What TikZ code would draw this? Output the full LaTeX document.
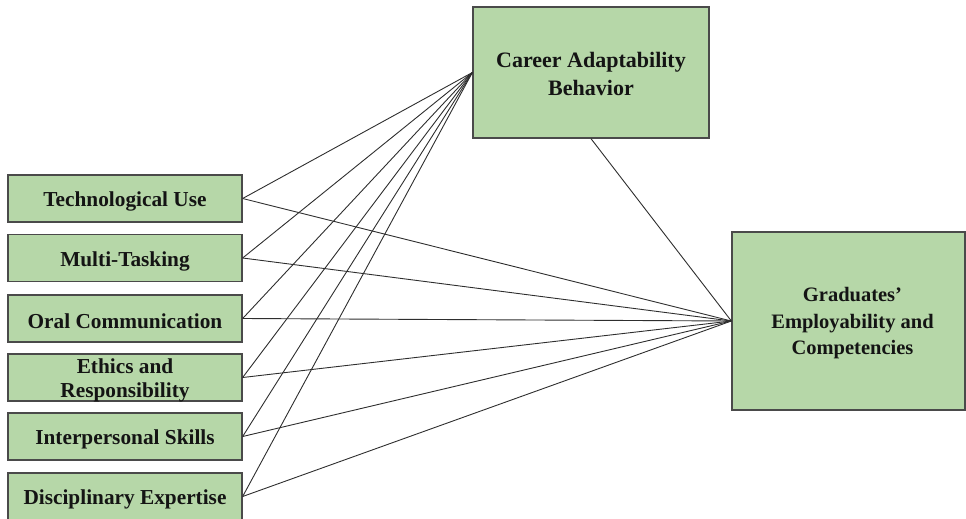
\documentclass[tikz,border=0pt]{standalone}
\usepackage{fontspec}
\setmainfont{Liberation Serif}
\definecolor{boxfill}{HTML}{B6D7A8}
\definecolor{boxline}{HTML}{4A4A4A}
\definecolor{txt}{HTML}{141414}
\definecolor{conn}{HTML}{2E2E2E}
\tikzset{
  leftbox/.style={draw=boxline, line width=1.3pt, fill=boxfill, minimum width=234pt, minimum height=47pt, inner sep=0pt},
  lefttext/.style={align=center, text=txt, inner sep=0pt, yshift=-3pt, font=\fontsize{21.3}{24}\selectfont\bfseries},
  bigbox/.style={draw=boxline, line width=1.3pt, fill=boxfill, inner sep=0pt},
  bigtext/.style={align=center, text=txt, inner sep=0pt},
  link/.style={draw=conn, line width=0.9pt}
}
\begin{document}
\begin{tikzpicture}[x=1pt,y=-1pt]
\useasboundingbox (0,0) rectangle (966,519);
\node[bigbox, minimum width=236pt, minimum height=131pt,
  label={[bigtext, yshift=-1pt, font=\fontsize{22}{28}\selectfont\bfseries]center:Career Adaptability\\Behavior}] (cab) at (591,72.5) {};
\node[bigbox, minimum width=233pt, minimum height=178pt,
  label={[bigtext, yshift=-2.5pt, xshift=4pt, font=\fontsize{20.5}{26.5}\selectfont\bfseries]center:Graduates’\\Employability and\\Competencies}] (gec) at (848.5,321) {};
\node[leftbox, label={[lefttext]center:Technological Use}] (t1) at (125,198.5) {};
\node[leftbox, label={[lefttext]center:Multi-Tasking}] (t2) at (125,258) {};
\node[leftbox, label={[lefttext]center:Oral Communication}] (t3) at (125,318.5) {};
\node[leftbox, label={[lefttext]center:Ethics and\\Responsibility}] (t4) at (125,377.5) {};
\node[leftbox, label={[lefttext]center:Interpersonal Skills}] (t5) at (125,436.5) {};
\node[leftbox, label={[lefttext]center:Disciplinary Expertise}] (t6) at (125,496.5) {};
\foreach \n in {t1,t2,t3,t4,t5,t6}{
  \draw[link] (\n.east) -- (cab.west);
  \draw[link] (\n.east) -- (gec.west);
}
\draw[link] (cab.south) -- (gec.west);
\end{tikzpicture}
\end{document}
